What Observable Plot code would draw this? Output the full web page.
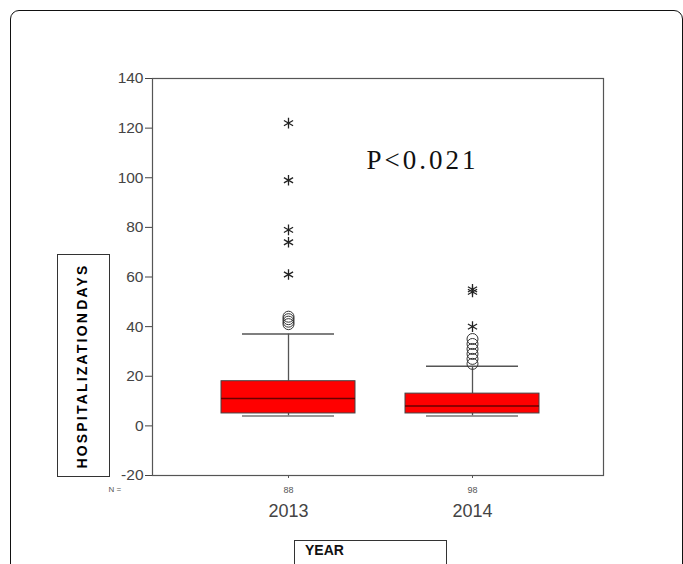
<!DOCTYPE html>
<html>
<head>
<meta charset="utf-8">
<script src="https://cdn.jsdelivr.net/npm/d3@7"></script>
<script src="https://cdn.jsdelivr.net/npm/@observablehq/plot@0.6"></script>
<style>
  html, body { margin: 0; padding: 0; background: #fff; }
  #wrap { position: relative; width: 683px; height: 564px; overflow: hidden; background: #fff; font-family: "Liberation Sans", Arial, sans-serif; }
  #outer { position: absolute; left: 10px; top: 10px; width: 671px; height: 620px; border: 1.5px solid #111; border-radius: 9px; }
  #chart { position: absolute; left: 0; top: 0; }
  #ylab { position: absolute; left: 57px; top: 254px; width: 53px; height: 223px; border: 1px solid #333; box-sizing: border-box; }
  #ylab span { position: absolute; left: 24px; top: 111px; transform: translate(-50%, -50%) rotate(-90deg); white-space: nowrap; font-weight: bold; font-size: 14px; color: #000; letter-spacing: 2.2px; word-spacing: -5px; }
  #xlab { position: absolute; left: 294px; top: 540px; width: 153px; height: 60px; border: 1px solid #333; box-sizing: border-box; }
  #xlab span { position: absolute; left: 10px; top: 1px; font-weight: bold; font-size: 14px; color: #111; }
</style>
</head>
<body>
<div id="wrap">
  <div id="outer"></div>
  <div id="chart"></div>
  <div id="ylab"><span>HOSPITALIZATION DAYS</span></div>
  <div id="xlab"><span>YEAR</span></div>
</div>
<script>
// ---- data ----
const years = ["2013", "2014"];
const counts = [88, 98];
const whiskerLow = [4, 4];
const q1 = [5, 5];
const median = [11, 8];
const q3 = [18, 13];
const whiskerHigh = [37, 24];
const circles2013 = [41, 42, 43, 44];
const circles2014 = [25, 27, 29, 31, 33, 35];
const stars2013 = [61, 74, 79, 99, 122];
const stars2014 = [40, 54, 55];
const yTicks = [-20, 0, 20, 40, 60, 80, 100, 120, 140];
const pLabel = "P<0.021";

const boxes = years.map((y, i) => ({year: y, lo: whiskerLow[i], q1: q1[i], med: median[i], q3: q3[i], hi: whiskerHigh[i]}));
const circles = [
  ...circles2013.map(v => ({year: "2013", v})),
  ...circles2014.map(v => ({year: "2014", v}))
];
const stars = [
  ...stars2013.map(v => ({year: "2013", v})),
  ...stars2014.map(v => ({year: "2014", v}))
];

const chart = Plot.plot({
  width: 683,
  height: 564,
  marginLeft: 152,
  marginRight: 80,
  marginTop: 78,
  marginBottom: 89,
  style: {fontFamily: "'Liberation Sans', Arial, sans-serif", background: "transparent"},
  x: {type: "band", domain: years, range: [221, 539.5], paddingInner: 0.27, paddingOuter: 0, axis: null},
  y: {domain: [-20, 140], axis: null},
  marks: [
    Plot.ruleX(boxes, {x: "year", y1: "q3", y2: "hi", stroke: "#555", strokeWidth: 1.3}),
    Plot.ruleX(boxes, {x: "year", y1: "lo", y2: "q1", stroke: "#555", strokeWidth: 1.3}),
    Plot.tickY(boxes, {x: "year", y: "hi", insetLeft: 21, insetRight: 21, stroke: "#555", strokeWidth: 1.5}),
    Plot.tickY(boxes, {x: "year", y: "lo", insetLeft: 21, insetRight: 21, stroke: "#777", strokeWidth: 1.5}),
    Plot.barY(boxes, {x: "year", y1: "q1", y2: "q3", fill: "#ff0000", stroke: "#444", strokeWidth: 1}),
    Plot.tickY(boxes, {x: "year", y: "med", stroke: "#6a0000", strokeWidth: 1.5}),
    Plot.dot(circles, {x: "year", y: "v", r: 5.5, stroke: "#333", fill: "none", strokeWidth: 1}),
    Plot.dot(stars, {x: "year", y: "v", symbol: "asterisk", r: 5, stroke: "#222", strokeWidth: 1.3}),
    Plot.frame({stroke: "#555", strokeWidth: 1.2}),
    Plot.axisY({ticks: yTicks, tickSize: 7, tickPadding: 2, fontSize: 15.5, color: "#444", label: null, tickFormat: d => String(d)}),
    Plot.axisX({tickSize: 3, tickPadding: 8, fontSize: 9, color: "#555", label: null, tickFormat: d => String(counts[years.indexOf(d)])}),
    Plot.axisX({tickSize: 0, tickPadding: 29, fontSize: 18, color: "#444", label: null, tickFormat: d => d}),
    Plot.text(["N ="], {frameAnchor: "bottom-left", dx: -44, dy: 16, fontSize: 8, fill: "#555", textAnchor: "start"}),
    Plot.text([pLabel], {frameAnchor: "top-left", dx: 214, dy: 71, textAnchor: "start", fontSize: 27, fontFamily: "'Liberation Serif', 'Times New Roman', serif", fill: "#111"})
  ]
});
document.getElementById("chart").appendChild(chart);
d3.select(chart).selectAll("text").filter(function() { return this.textContent === pLabel; }).style("letter-spacing", "3px");
</script>
</body>
</html>
